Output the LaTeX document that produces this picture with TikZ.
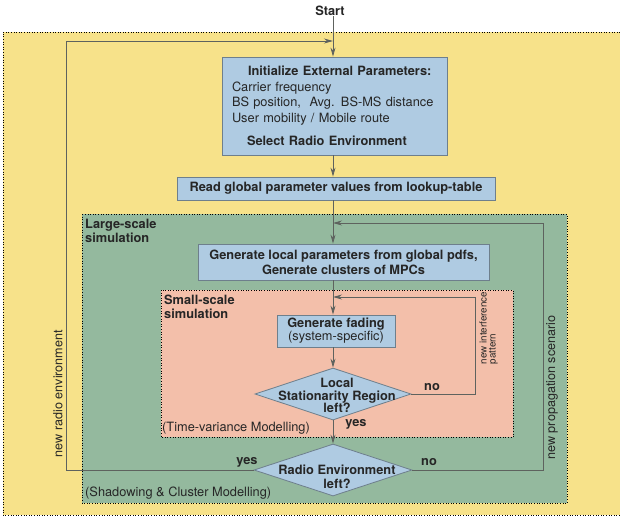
\documentclass[tikz,border=0pt]{standalone}
\usepackage{fontspec}
\setmainfont{TeX Gyre Heros}
\usetikzlibrary{shapes.geometric,arrows.meta}
\definecolor{outerbg}{HTML}{F7E28A}
\definecolor{largebg}{HTML}{94B99E}
\definecolor{smallbg}{HTML}{F3BFAA}
\definecolor{boxfill}{HTML}{AFCBE2}
\definecolor{boxline}{HTML}{6E7F8C}
\definecolor{flowline}{HTML}{5E625E}
\definecolor{ink}{HTML}{262626}

\begin{document}
\begin{tikzpicture}[x = 1pt, y = -1pt,
    every node/.style = {text = ink, inner sep = 0pt, font = \fontsize{12.8}{15.5}\selectfont},
    region/.style = {draw = black, dotted, line width = 0.6pt},
    procbox/.style = {draw = boxline, fill = boxfill, line width = 0.8pt, align = center},
    decision/.style = {shape = diamond, draw = boxline, fill = boxfill, line width = 0.8pt},
    tag/.style = {font = \bfseries\fontsize{12.8}{14}\selectfont},
    flow/.style = {draw = flowline, line width = 0.8pt, -{Stealth[length = 9pt, width = 5pt]}}]
    \useasboundingbox (0,0) rectangle (620,517);

    \filldraw[region, fill = outerbg] (620,32) -- (3,32) -- (3,515) -- (620,515);
    \filldraw[region, fill = largebg] (82,214) rectangle (567,503);
    \filldraw[region, fill = smallbg] (161,290) rectangle (513,437);

    \coordinate (spine) at (333,0);
    \coordinate (lx) at (66,0);
    \coordinate (rx) at (543,0);
    \coordinate (ix) at (475,0);
    \coordinate (j1) at (333,41);
    \coordinate (j2) at (333,223);
    \coordinate (j3) at (333,297);

    \node[tag] (start) at (330,11) {Start};
    \node[procbox, align = left, text width = 205, minimum width = 225, minimum height = 98] (init) at (334.5,106)
        {\hspace*{16pt}\textbf{Initialize External Parameters:}\\
         Carrier frequency\\
         BS position,\ \ Avg. BS-MS distance\\
         User mobility / Mobile route\\[8pt]
         \hspace*{15pt}\textbf{Select Radio Environment}};
    \node[procbox, tag, minimum width = 318, minimum height = 23] (lookup) at (336,188.5)
        {Read global parameter values from lookup-table};
    \node[procbox, font = \bfseries\fontsize{12.8}{15}\selectfont, minimum width = 291, minimum height = 36] (local) at (343.5,262)
        {Generate local parameters from global pdfs,\\Generate clusters of MPCs};
    \node[procbox, font = \fontsize{12.8}{13}\selectfont, minimum width = 118, minimum height = 32] (fading) at (336,331)
        {\textbf{Generate fading}\\(system-specific)};
    \node[decision, minimum width = 156, minimum height = 52] (d1) at (333,394) {};
    \node[align = center, font = \bfseries\fontsize{12.8}{12.5}\selectfont] (d1txt) at (337,395.5)
        {Local\\Stationarity Region\\left?};
    \node[decision, minimum width = 158, minimum height = 52] (d2) at (333,470) {};
    \node[align = center, font = \bfseries\fontsize{12.8}{14}\selectfont] (d2txt) at (337,477)
        {Radio Environment\\left?};

    \node[tag, align = left, anchor = north west] (largelbl) at (85,219) {Large-scale\\simulation};
    \node[tag, align = left, anchor = north west] (smalllbl) at (164,295) {Small-scale\\simulation};
    \node[anchor = west] (timelbl) at (162,428) {(Time-variance Modelling)};
    \node[anchor = west] (shadowlbl) at (85,493) {(Shadowing \& Cluster Modelling)};

    \node[tag] (yes1) at (356,424) {yes};
    \node[tag] (no1) at (432,387) {no};
    \node[tag] (yes2) at (247,462) {yes};
    \node[tag] (no2) at (429,462) {no};

    \node[rotate = 90, font = \fontsize{12.6}{15}\selectfont] (radiolbl) at (58,393.5) {new radio environment};
    \node[rotate = 90, font = \fontsize{12.6}{15}\selectfont] (proplbl) at (552,387.5) {new propagation scenario};
    \node[rotate = 90, align = left, font = \fontsize{9.8}{9}\selectfont] (interlbl) at (488.5,328)
        {new interference\\pattern};

    \draw[flow] (start.south -| spine) -- (init.north -| spine);
    \draw[flow] (init.south -| spine) -- (lookup.north -| spine);
    \draw[flow] (lookup.south -| spine) -- (local.north -| spine);
    \draw[flow] (local.south -| spine) -- (fading.north -| spine);
    \draw[flow] (fading.south -| spine) -- (d1.north);
    \draw[flow] (d1.south) -- (d2.north);
    \draw[flow] (d1.east) -- (d1.east -| ix) |- (j3);
    \draw[flow] (d2.east) -- (d2.east -| rx) |- (j2);
    \draw[flow] (d2.west) -- (d2.west -| lx) |- (j1);
\end{tikzpicture}
\end{document}
